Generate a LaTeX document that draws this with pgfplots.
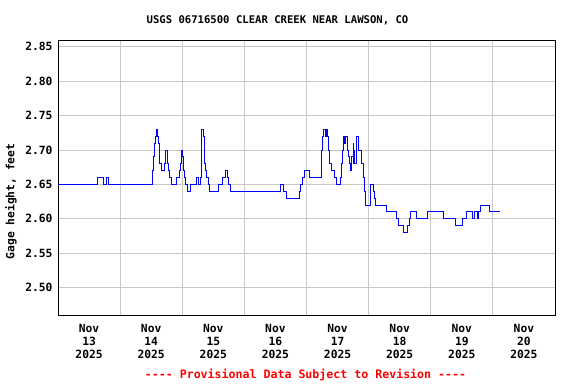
\documentclass[border=0pt]{standalone}
\usepackage{pgfplots}
\pgfplotsset{compat=1.18}
\usepackage{fontspec}
\setmainfont{DejaVu Sans Mono}
\setmonofont{DejaVu Sans Mono}
\definecolor{gridgray}{RGB}{200,200,200}
\begin{document}
\begin{tikzpicture}
\useasboundingbox (0pt,0pt) rectangle (576pt,384pt);
\begin{axis}[
  at={(58pt,69pt)}, anchor=south west,
  scale only axis, width=497pt, height=275pt,
  xmin=0, xmax=8, ymin=2.46, ymax=2.86,
  axis line style={black, line width=0.8pt},
  xtick={0.5,1.5,...,7.5},
  xticklabels={{Nov\\13\\2025},{Nov\\14\\2025},{Nov\\15\\2025},{Nov\\16\\2025},{Nov\\17\\2025},{Nov\\18\\2025},{Nov\\19\\2025},{Nov\\20\\2025}},
  xticklabel style={align=center, font=\fontsize{11.3}{13}\selectfont\bfseries, yshift=-6pt},
  minor xtick={1,2,...,7},
  xminorgrids=true, xmajorgrids=false,
  ytick={2.50,2.55,...,2.86},
  ymajorgrids=true,
  grid style={gridgray, line width=0.8pt},
  minor grid style={gridgray, line width=0.8pt},
  major tick length=0pt, minor tick length=0pt,
  yticklabel style={font=\fontsize{11.3}{13}\selectfont\bfseries, xshift=-2pt},
  /pgf/number format/.cd, fixed, fixed zerofill, precision=2, assume math mode=true,
]
\addplot[const plot, blue, line width=1pt] coordinates {
(0,2.65) (0.633,2.66) (0.736,2.65) (0.784,2.66) (0.816,2.65)
(1.519,2.67) (1.535,2.69) (1.551,2.71) (1.567,2.72) (1.583,2.73)
(1.605,2.72) (1.615,2.71) (1.631,2.68) (1.660,2.67) (1.707,2.68)
(1.728,2.70) (1.766,2.68) (1.782,2.67) (1.798,2.66) (1.830,2.65)
(1.905,2.66) (1.953,2.67) (1.975,2.68) (1.986,2.70) (2.008,2.69)
(2.013,2.68) (2.024,2.67) (2.040,2.66) (2.056,2.65) (2.083,2.64)
(2.126,2.65) (2.233,2.66) (2.266,2.65) (2.292,2.66) (2.303,2.72)
(2.314,2.73) (2.340,2.72) (2.351,2.70) (2.362,2.68) (2.378,2.67)
(2.394,2.66) (2.415,2.65) (2.443,2.64) (2.582,2.65) (2.646,2.66)
(2.689,2.67) (2.727,2.66) (2.748,2.65) (2.781,2.64) (3.580,2.65)
(3.628,2.64) (3.672,2.63) (3.886,2.64) (3.910,2.65) (3.937,2.66)
(3.969,2.67) (4.050,2.66) (4.246,2.70) (4.262,2.72) (4.278,2.73)
(4.305,2.72) (4.316,2.73) (4.337,2.72) (4.348,2.70) (4.364,2.68)
(4.400,2.67) (4.450,2.66) (4.477,2.65) (4.552,2.66) (4.563,2.68)
(4.573,2.70) (4.589,2.72) (4.617,2.71) (4.633,2.72) (4.659,2.70)
(4.675,2.69) (4.686,2.68) (4.702,2.67) (4.729,2.69) (4.750,2.71)
(4.761,2.68) (4.772,2.70) (4.777,2.68) (4.799,2.72) (4.836,2.70)
(4.879,2.69) (4.890,2.68) (4.911,2.67) (4.922,2.66) (4.939,2.64)
(4.955,2.62) (5.024,2.65) (5.073,2.64) (5.088,2.63) (5.110,2.62)
(5.282,2.61) (5.443,2.60) (5.480,2.59) (5.567,2.58) (5.631,2.59)
(5.652,2.60) (5.679,2.61) (5.770,2.60) (5.953,2.61) (6.211,2.60)
(6.398,2.59) (6.517,2.60) (6.581,2.61) (6.667,2.60) (6.699,2.61)
(6.758,2.60) (6.775,2.61) (6.795,2.62) (6.945,2.61) (7.118,2.61)
};
\end{axis}
\node[font=\fontsize{10.6}{12}\selectfont\bfseries] at (277.5pt,364pt) {USGS 06716500 CLEAR CREEK NEAR LAWSON, CO};
\node[font=\fontsize{11.3}{13}\selectfont\bfseries, rotate=90] at (11pt,182.5pt) {Gage height, feet};
\node[font=\fontsize{11.6}{13}\selectfont\bfseries, text=red] at (305.5pt,9pt) {{-}{-}{-}{-} Provisional Data Subject to Revision {-}{-}{-}{-}};
\end{tikzpicture}
\end{document}
